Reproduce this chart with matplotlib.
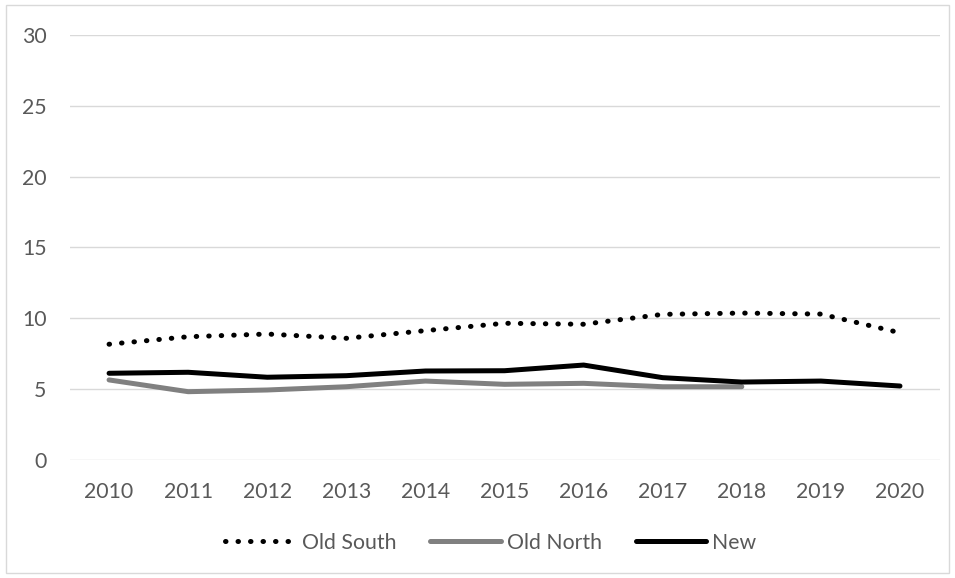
import numpy as np
import matplotlib.pyplot as plt
from matplotlib.patches import Rectangle

# data
years = [2010, 2011, 2012, 2013, 2014, 2015, 2016, 2017, 2018, 2019, 2020]
old_south = [8.17, 8.70, 8.89, 8.59, 9.13, 9.65, 9.58, 10.28, 10.37, 10.30, 8.98]
old_north = [5.65, 4.82, 4.94, 5.17, 5.57, 5.34, 5.41, 5.17, 5.17]
new = [6.12, 6.19, 5.84, 5.95, 6.28, 6.30, 6.70, 5.81, 5.50, 5.57, 5.22]
yticks = [0, 5, 10, 15, 20, 25, 30]

plt.rcParams['font.family'] = ['Lato', 'DejaVu Sans']
txt = '#595959'
fs = 15.3

fig = plt.figure(figsize=(9.55, 5.78), dpi=100)
# thin frame round the whole chart
fig.patches.append(Rectangle((0.006, 0.008), 0.988, 0.984, transform=fig.transFigure,
                             fill=False, edgecolor='#d9d9d9', linewidth=1))

ax = fig.add_axes([0.0728, 0.2042, 0.911, 0.7353])
x = np.arange(len(years))

ax.plot(x, old_south, color='black', linewidth=3.6, linestyle=(0, (0.1, 2.4)),
        dash_capstyle='round', label='Old South')
ax.plot(x[:len(old_north)], old_north, color='#808080', linewidth=3.6,
        solid_capstyle='round', label='Old North')
ax.plot(x, new, color='black', linewidth=3.6, solid_capstyle='round', label='New')

ax.set_xlim(-0.5, len(years) - 0.5)
ax.set_ylim(0, 30)
ax.set_yticks(yticks)
ax.set_xticks(x)
ax.set_xticklabels([str(y) for y in years])
ax.grid(axis='y', color='#d9d9d9', linewidth=1)
ax.set_axisbelow(True)
for s in ax.spines.values():
    s.set_visible(False)
ax.tick_params(length=0, labelsize=fs, labelcolor=txt)
ax.tick_params(axis='x', pad=16)
ax.tick_params(axis='y', pad=16.5)

leg = ax.legend(loc='center', bbox_to_anchor=(0.4845, -0.195), ncol=3, frameon=False,
                fontsize=fs, handlelength=3.3, columnspacing=1.6, handletextpad=0.3,
                borderaxespad=0)
for t in leg.get_texts():
    t.set_color(txt)

fig.savefig('out.png', dpi=100)
